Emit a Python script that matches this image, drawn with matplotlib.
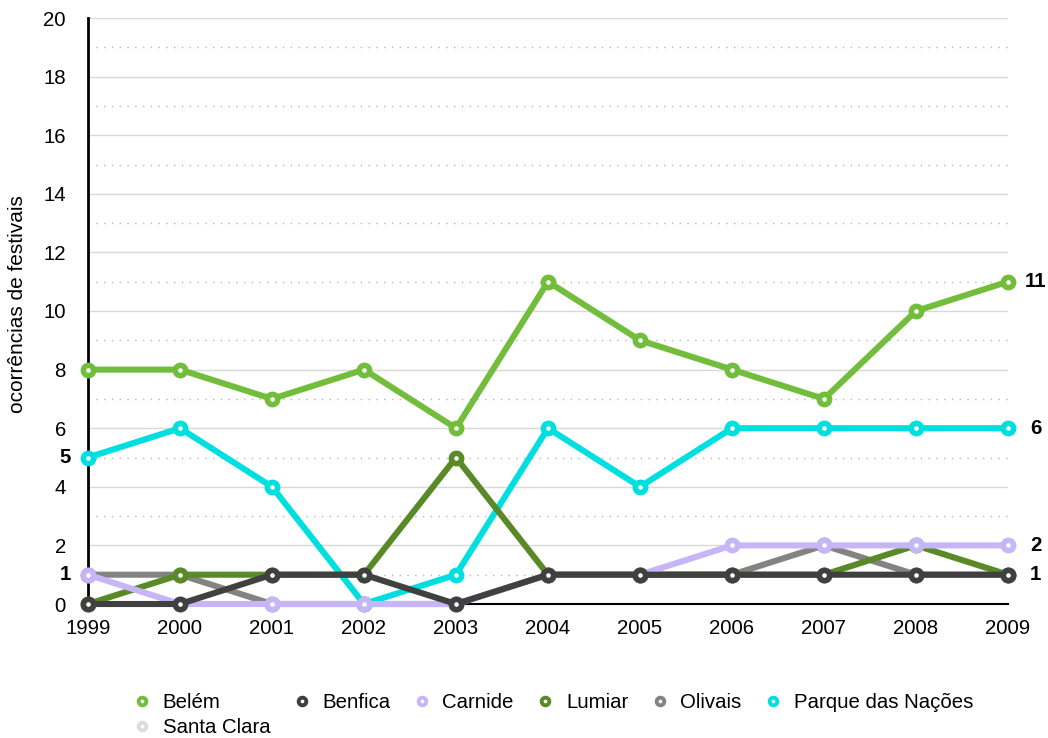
import matplotlib
matplotlib.use("Agg")
import matplotlib.pyplot as plt
from matplotlib.lines import Line2D
import numpy as np

plt.rcParams['font.family'] = ['Liberation Sans', 'DejaVu Sans']

years = [1999, 2000, 2001, 2002, 2003, 2004, 2005, 2006, 2007, 2008, 2009]
nan = float('nan')
belem = [8, 8, 7, 8, 6, 11, 9, 8, 7, 10, 11]
benfica = [0, 0, 1, 1, 0, 1, 1, 1, 1, 1, 1]
carnide = [1, 0, 0, 0, 0, 1, 1, 2, 2, 2, 2]
lumiar = [0, 1, 1, 1, 5, 1, 1, 1, 1, 2, 1]
olivais = [1, 1, 0, 0, 0, 1, 1, 1, 2, 1, 1]
parque = [5, 6, 4, 0, 1, 6, 4, 6, 6, 6, 6]
santa_clara = [nan] * 11

series_names = ['Belém', 'Benfica', 'Carnide', 'Lumiar', 'Olivais',
                'Parque das Nações', 'Santa Clara']
series_values = [belem, benfica, carnide, lumiar, olivais, parque, santa_clara]
colors = ['#72be3c', '#404040', '#c6b6f7', '#5a8a28', '#838383',
          '#00dfe0', '#dcdcdc']
zorders = [10, 9, 8, 7, 6, 5, 4]

left_label_series = ['Parque das Nações', 'Carnide']
right_label_series = ['Belém', 'Parque das Nações', 'Carnide', 'Benfica']

FS = 14.7
W, H = 1048, 738
fig = plt.figure(figsize=(W / 100, H / 100), dpi=100)
ax = fig.add_axes([88 / W, 1 - 604 / H, (1008 - 88) / W, (604 - 18) / H])

lw = 4.4
for name, vals, c, z in zip(series_names, series_values, colors, zorders):
    ax.plot(years, vals, color=c, lw=lw, marker='o', markersize=7.4,
            markeredgewidth=4.0, markerfacecolor='white', markeredgecolor=c,
            zorder=z, clip_on=False, solid_capstyle='round')

ax.set_xlim(1999, 2009)
ax.set_ylim(0, 20)
ax.set_xticks(years)
ax.set_xticklabels([str(y) for y in years])
ax.set_yticks(np.arange(0, 21, 2))
ax.set_yticks(np.arange(1, 20, 2), minor=True)
ax.tick_params(axis='both', which='both', length=0, labelsize=FS)
ax.tick_params(axis='x', pad=10.5)
ax.tick_params(axis='y', pad=16)
ax.grid(True, which='major', axis='y', color='#d8d8d8', lw=1.0, zorder=0)
ax.grid(True, which='minor', axis='y', color='#b8b8b8', lw=1.0,
        linestyle=(0, (1, 4.6)), zorder=0)
ax.set_axisbelow(True)
for s in ['top', 'right']:
    ax.spines[s].set_visible(False)
ax.spines['left'].set_linewidth(2.0)
ax.spines['bottom'].set_linewidth(1.5)
ax.spines['left'].set_zorder(2)
ax.spines['bottom'].set_zorder(2)

lookup = dict(zip(series_names, series_values))
for name in left_label_series:
    v = lookup[name][0]
    ax.annotate(f"{v:g}", xy=(years[0], v), xytext=(-16.6, 0),
                textcoords='offset points', ha='center', va='center',
                fontsize=FS, fontweight='bold', annotation_clip=False)
for name in right_label_series:
    v = lookup[name][-1]
    ax.annotate(f"{v:g}", xy=(years[-1], v), xytext=(19.8, 0),
                textcoords='offset points', ha='center', va='center',
                fontsize=FS, fontweight='bold', annotation_clip=False)

fig.text(18 / W, 1 - 304 / H, 'ocorrências de festivais', rotation=90,
         ha='center', va='center', fontsize=15)

# legend: column-major ordering so Santa Clara falls under Belém
order = [0, 6, 1, 2, 3, 4, 5]
handles = [Line2D([], [], linestyle='none', marker='o', markersize=5.5,
                  markeredgewidth=2.8, markerfacecolor='white',
                  markeredgecolor=colors[i]) for i in order]
labels = [series_names[i] for i in order]
fig.legend(handles, labels, ncol=6, loc='upper left',
           bbox_to_anchor=(134 / W, 1 - 693 / H), frameon=False,
           fontsize=FS, handlelength=0.8, handletextpad=0.6,
           columnspacing=1.15, borderpad=0, borderaxespad=0,
           labelspacing=0.3)

fig.savefig('out.png', dpi=100)
